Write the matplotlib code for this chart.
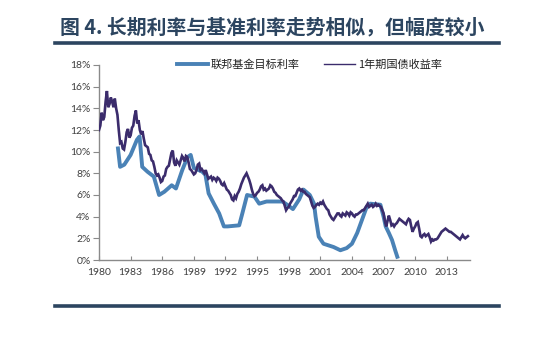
import numpy as np
import matplotlib
matplotlib.use("Agg")
import matplotlib.pyplot as plt
from matplotlib.lines import Line2D

# ---------------- data ----------------
title_text = "图 4. 长期利率与基准利率走势相似，但幅度较小"
fed_label = "联邦基金目标利率"
bond_label = "1年期国债收益率"

bond_start, bond_step = 1980.0, 0.125
bond_values = [
    12.0, 12.4, 13.6, 12.9, 13.2, 14.6, 15.6, 14.1, 14.4, 15.0, 14.6, 14.1, 14.9, 14.0, 13.4, 12.0,
    10.8, 10.9, 10.3, 10.2, 10.9, 11.8, 12.1, 11.3, 11.5, 12.2, 12.4, 13.3, 13.8, 12.6, 12.9, 12.0,
    11.6, 11.9, 11.2, 10.6, 10.5, 10.4, 9.8, 9.7, 9.2, 9.1, 8.6, 8.0, 7.8, 7.9, 7.6, 7.2,
    7.3, 7.7, 7.8, 8.4, 8.6, 8.7, 9.3, 9.9, 10.1, 9.0, 8.7, 9.2, 9.0, 8.8, 9.2, 9.6,
    9.4, 9.1, 9.6, 9.5, 9.0, 8.4, 8.3, 8.1, 7.9, 8.0, 8.3, 8.8, 8.9, 8.3, 8.4, 8.2,
    8.0, 8.3, 7.9, 7.5, 7.6, 7.7, 7.4, 7.6, 7.5, 7.3, 7.6, 7.5, 7.3, 7.0, 6.9, 7.1,
    6.8, 6.5, 6.4, 6.2, 6.0, 5.6, 5.5, 5.9, 5.7, 6.1, 6.3, 6.6, 7.0, 7.3, 7.6, 7.8,
    8.0, 7.7, 7.4, 7.0, 6.5, 6.1, 5.9, 6.0, 6.2, 6.3, 6.5, 6.8, 6.9, 6.5, 6.6, 6.4,
    6.5, 6.6, 6.9, 6.8, 6.6, 6.3, 6.2, 6.0, 5.9, 5.8, 5.7, 5.5, 5.4, 5.0, 4.6, 4.8,
    4.9, 5.2, 5.4, 5.6, 5.9, 5.9, 6.2, 6.5, 6.6, 6.4, 6.5, 6.3, 6.3, 6.1, 6.0, 5.9,
    5.8, 5.4, 5.0, 4.8, 4.9, 5.1, 5.2, 5.1, 5.3, 5.2, 5.4, 5.1, 4.9, 4.7, 4.6, 4.2,
    4.0, 3.8, 3.7, 3.9, 4.1, 4.3, 4.3, 4.1, 4.0, 4.3, 4.2, 4.1, 4.4, 4.3, 4.1, 4.4,
    4.3, 4.1, 4.0, 4.2, 4.2, 4.3, 4.4, 4.5, 4.6, 4.6, 4.8, 5.0, 5.2, 4.9, 5.0, 5.1,
    4.9, 5.0, 5.2, 5.0, 5.1, 5.0, 4.9, 4.6, 4.3, 3.6, 3.1, 3.6, 4.1, 3.7, 3.2, 3.3,
    3.1, 3.3, 3.4, 3.6, 3.8, 3.7, 3.6, 3.5, 3.4, 3.3, 3.6, 3.8, 3.7, 3.1, 2.6, 2.9,
    3.1, 3.4, 3.5, 2.9, 2.2, 2.1, 2.3, 2.4, 2.2, 2.3, 2.4, 2.1, 1.7, 1.9, 1.8, 1.9,
    1.9, 2.0, 2.2, 2.4, 2.6, 2.7, 2.8, 2.9, 2.8, 2.7, 2.6, 2.6, 2.5, 2.4, 2.3, 2.2,
    2.1, 2.0, 1.9, 2.1, 2.3, 2.1, 2.0, 2.1, 2.2,
]
bond_years = bond_start + bond_step * np.arange(len(bond_values))

fed_years = [
    1981.8, 1982.0, 1982.4, 1983.0, 1983.6, 1983.85, 1984.1, 1984.6,
    1985.2, 1985.7, 1986.2, 1986.9, 1987.3, 1987.9, 1988.4, 1988.7,
    1989.0, 1989.8, 1990.1, 1990.4, 1990.9, 1991.4, 1991.85, 1992.2,
    1993.3, 1993.6, 1994.05, 1994.75, 1995.2, 1995.9, 1997.4, 1997.85,
    1998.4, 1999.0, 1999.4, 2000.0, 2000.4, 2000.55, 2000.85, 2001.3,
    2002.25, 2002.9, 2003.5, 2004.0, 2004.5, 2004.95, 2005.4, 2005.75,
    2006.7, 2007.0, 2007.2, 2007.5, 2007.8, 2008.1, 2008.3,
]
fed_values = [
    10.3, 8.6, 8.8, 9.7, 11.1, 11.4, 8.6, 8.15,
    7.7, 6.0, 6.3, 6.9, 6.6, 8.3, 9.5, 9.7,
    8.5, 8.15, 7.85, 6.15, 5.2, 4.3, 3.1, 3.1,
    3.2, 4.3, 6.0, 5.85, 5.2, 5.4, 5.4, 5.1,
    4.7, 5.6, 6.5, 6.0, 5.2, 4.0, 2.15, 1.5,
    1.2, 0.9, 1.1, 1.5, 2.5, 3.7, 4.9, 5.2,
    5.1, 4.0, 3.1, 2.5, 1.85, 0.9, 0.3,
]

x_ticks = [1980, 1983, 1986, 1989, 1992, 1995, 1998, 2001, 2004, 2007, 2010, 2013]
y_ticks = [0, 2, 4, 6, 8, 10, 12, 14, 16, 18]

# ---------------- style ----------------
W, H = 550, 341
cjk = ["Noto Sans CJK SC", "DejaVu Sans"]
fed_color = "#4a82b6"
bond_color = "#3b2c6c"
navy = "#2c4560"
tick_color = "#404040"

fig = plt.figure(figsize=(W / 100, H / 100), dpi=100)
fig.patch.set_facecolor("white")

ax = fig.add_axes([99 / W, 1 - 260 / H, (470 - 99) / W, (260 - 65) / H])
ax.plot(fed_years, fed_values, color=fed_color, lw=2.8, solid_joinstyle="round",
        label=fed_label, zorder=2)
ax.plot(bond_years, bond_values, color=bond_color, lw=1.9, solid_joinstyle="miter",
        label=bond_label, zorder=3)

ax.set_xlim(1980, 2015.2)
ax.set_ylim(0, 18)
ax.set_xticks(x_ticks)
ax.set_xticklabels([str(t) for t in x_ticks])
ax.set_yticks(y_ticks)
ax.set_yticklabels([f"{t}%" for t in y_ticks])
for s in ["top", "right"]:
    ax.spines[s].set_visible(False)
for s in ["left", "bottom"]:
    ax.spines[s].set_color("#8a8a8a")
    ax.spines[s].set_linewidth(1.0)
ax.tick_params(axis="x", direction="in", length=3, color="#8a8a8a", pad=6,
               labelsize=7.5, labelcolor=tick_color)
ax.tick_params(axis="y", direction="out", length=4, color="#8a8a8a", pad=2,
               labelsize=7.5, labelcolor=tick_color)
for lab in ax.get_xticklabels() + ax.get_yticklabels():
    lab.set_family(["Lato", "DejaVu Sans"])

handles = [Line2D([0], [0], color=fed_color, lw=2.8),
           Line2D([0], [0], color=bond_color, lw=1.0)]
leg = ax.legend(handles, [fed_label, bond_label], ncol=2, frameon=False,
                loc="center left", bbox_to_anchor=(177 / W, 1 - 65 / H),
                bbox_transform=fig.transFigure, borderpad=0, borderaxespad=0,
                handlelength=2.8, handletextpad=0.25, columnspacing=2.2,
                prop={"family": cjk, "size": 8})
for t in leg.get_texts():
    t.set_color("#222222")

# title and rules
fig.text(60 / W, 1 - 26.5 / H, title_text, family=cjk, fontsize=14.3,
         fontweight="bold", color=navy, ha="left", va="center")
for yy in (43, 306):
    fig.add_artist(Line2D([55 / W, 499 / W], [1 - yy / H, 1 - yy / H],
                          color=navy, lw=2.6, transform=fig.transFigure))

fig.savefig("out.png", dpi=100, facecolor="white")
